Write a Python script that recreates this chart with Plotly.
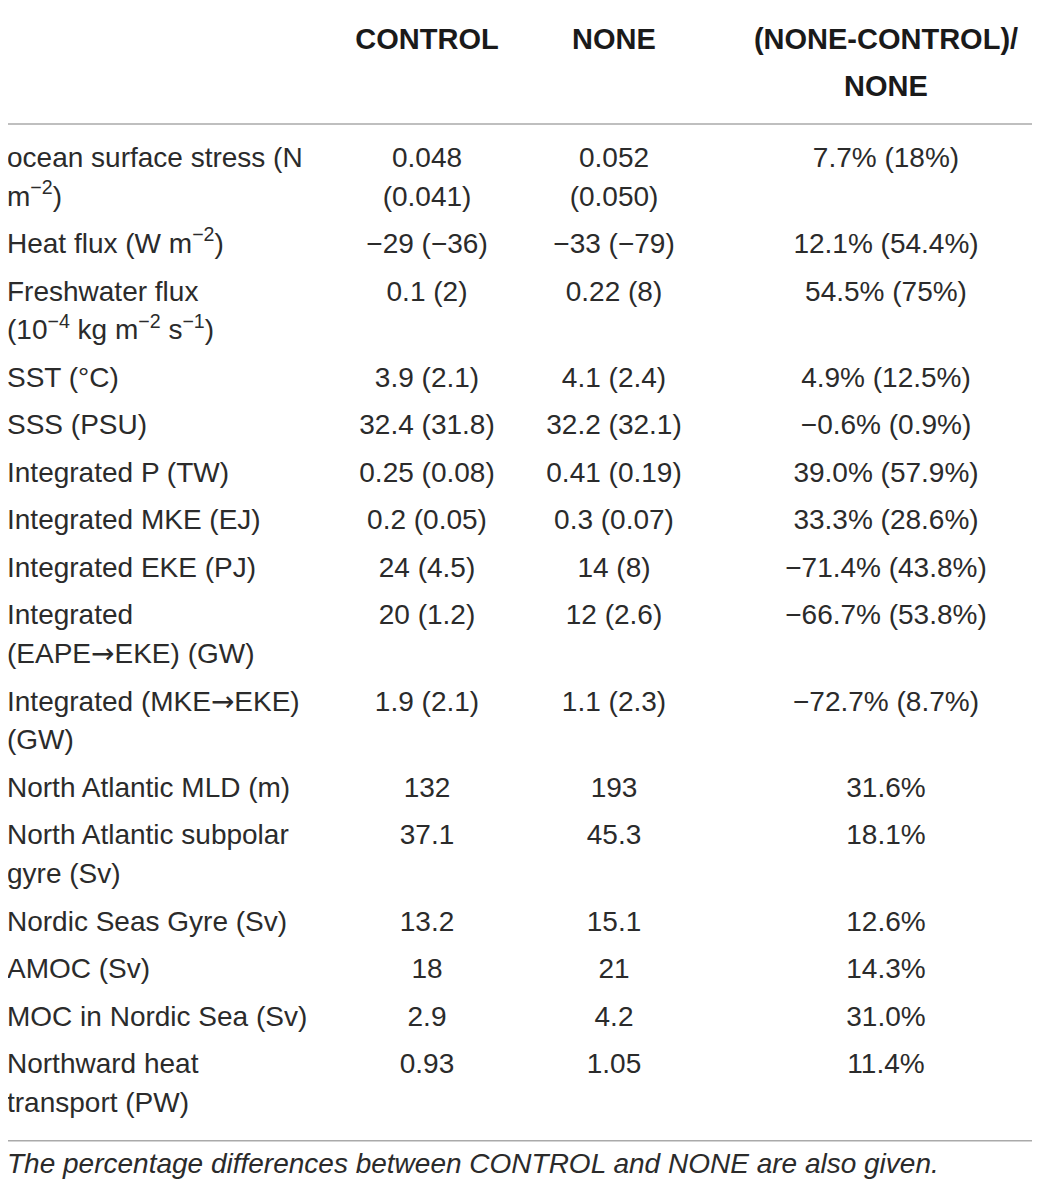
import plotly.graph_objects as go

# table content (line breaks follow the wrapping of the original table)
ARROW = '<span style="font-family:DejaVu Sans">→</span>'

header = ["", "CONTROL", "NONE", "(NONE-CONTROL)/<br>NONE"]

variables = [
    "ocean surface stress (N<br>m<sup>−2</sup>)",
    "Heat flux (W m<sup>−2</sup>)",
    "Freshwater flux<br>(10<sup>−4</sup> kg m<sup>−2</sup> s<sup>−1</sup>)",
    "SST (°C)",
    "SSS (PSU)",
    "Integrated P (TW)",
    "Integrated MKE (EJ)",
    "Integrated EKE (PJ)",
    "Integrated<br>(EAPE" + ARROW + "EKE) (GW)",
    "Integrated (MKE" + ARROW + "EKE)<br>(GW)",
    "North Atlantic MLD (m)",
    "North Atlantic subpolar<br>gyre (Sv)",
    "Nordic Seas Gyre (Sv)",
    "AMOC (Sv)",
    "MOC in Nordic Sea (Sv)",
    "Northward heat<br>transport (PW)",
]
control = ["0.048<br>(0.041)", "−29 (−36)", "0.1 (2)", "3.9 (2.1)", "32.4 (31.8)",
           "0.25 (0.08)", "0.2 (0.05)", "24 (4.5)", "20 (1.2)", "1.9 (2.1)",
           "132", "37.1", "13.2", "18", "2.9", "0.93"]
none = ["0.052<br>(0.050)", "−33 (−79)", "0.22 (8)", "4.1 (2.4)", "32.2 (32.1)",
        "0.41 (0.19)", "0.3 (0.07)", "14 (8)", "12 (2.6)", "1.1 (2.3)",
        "193", "45.3", "15.1", "21", "4.2", "1.05"]
rel_diff = ["7.7% (18%)", "12.1% (54.4%)", "54.5% (75%)", "4.9% (12.5%)", "−0.6% (0.9%)",
            "39.0% (57.9%)", "33.3% (28.6%)", "−71.4% (43.8%)", "−66.7% (53.8%)",
            "−72.7% (8.7%)", "31.6%", "18.1%", "12.6%", "14.3%", "31.0%", "11.4%"]
footnote = "The percentage differences between CONTROL and NONE are also given."

W, H = 1040, 1190
OFF = 8  # page body margin, so axis units equal screen pixels
FONT = "Liberation Sans"
TXT = "#2b2b2b"
RULE = "#aaaaaa"
SIZE = 28

col_x = [7, 427, 614, 886]
col_pos = ["middle right", "middle center", "middle center", "middle center"]

LINE = 38.8
PAD = 8.7
body_top = 136
head_y0, head_dy = 42, 47

fig = go.Figure()

# header
for c, h in enumerate(header):
    parts = h.split("<br>") if h else []
    for i, p in enumerate(parts):
        fig.add_trace(go.Scatter(
            x=[col_x[c]], y=[head_y0 + i * head_dy], mode="text", text=["<b>" + p + "</b>"],
            textposition=col_pos[c], textfont=dict(family=FONT, size=29, color="#1a1a1a"),
            hoverinfo="skip", showlegend=False))

# body
columns = [variables, control, none, rel_diff]
xs, ys, ts = [[] for _ in range(4)], [[] for _ in range(4)], [[] for _ in range(4)]
y = body_top
for r in range(len(variables)):
    cells = [col[r].split("<br>") for col in columns]
    n = max(len(c) for c in cells)
    for c, lines in enumerate(cells):
        for i, t in enumerate(lines):
            xs[c].append(col_x[c])
            ys[c].append(y + PAD / 2 + (i + 0.5) * LINE)
            ts[c].append(t)
    y += n * LINE + PAD
body_bottom = y

for c in range(4):
    fig.add_trace(go.Scatter(
        x=xs[c], y=ys[c], mode="text", text=ts[c], textposition=col_pos[c],
        textfont=dict(family=FONT, size=SIZE, color=TXT),
        hoverinfo="skip", showlegend=False))

# footnote
fig.add_trace(go.Scatter(
    x=[col_x[0]], y=[body_bottom + 37], mode="text", text=["<i>" + footnote + "</i>"],
    textposition="middle right", textfont=dict(family=FONT, size=SIZE, color=TXT),
    hoverinfo="skip", showlegend=False))

# horizontal rules
for yy, xa in [(5, 0), (124, 0), (body_bottom + 12, 6)]:
    fig.add_shape(type="line", x0=xa, x1=1035, y0=yy, y1=yy, xref="x", yref="y",
                  line=dict(color=RULE, width=1.5))

fig.update_xaxes(range=[OFF, W + OFF], visible=False, fixedrange=True)
fig.update_yaxes(range=[H + OFF, OFF], visible=False, fixedrange=True)
fig.update_layout(
    width=W, height=H,
    margin=dict(l=0, r=0, t=0, b=0),
    paper_bgcolor="white", plot_bgcolor="white",
)

fig.write_html("out.html")
